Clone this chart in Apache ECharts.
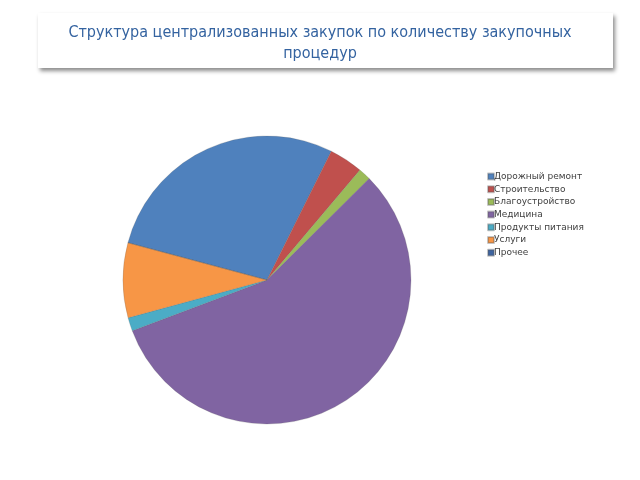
<!DOCTYPE html>
<html><head><meta charset="utf-8">
<script src="https://cdn.jsdelivr.net/npm/echarts@6/dist/echarts.min.js"></script>
<style>html,body{margin:0;padding:0;background:#fff}#c{width:640px;height:480px}</style>
</head><body><div id="c"></div>
<script>
var titleText = 'Структура централизованных закупок по количеству закупочных\nпроцедур';
var categories = ['Дорожный ремонт','Строительство','Благоустройство','Медицина','Продукты питания','Услуги','Прочее'];
var values = [28.2, 3.8, 1.4, 56.7, 1.5, 8.4, 0];
var colors = ['#4F81BD','#C0504D','#9BBB59','#8064A2','#4BACC6','#F79646','#3E64A0'];

var chart = echarts.init(document.getElementById('c'), null, {renderer:'canvas'});
chart.setOption({
  animation:false,
  color: colors,
  graphic:[{
    type:'rect', left:38, top:13, shape:{width:575, height:55},
    style:{fill:'#fff', shadowBlur:4, shadowOffsetX:2, shadowOffsetY:3, shadowColor:'rgba(0,0,0,0.45)'}, z:0
  },{
    type:'text', left:'center', top:22, z:1,
    style:{text:titleText, fill:'#3463A0', font:'16px "Liberation Sans Narrow","DejaVu Sans Condensed",sans-serif', textAlign:'center', lineHeight:21}
  }],
  legend:{
    orient:'vertical', left:482, top:166,
    itemWidth:6, itemHeight:6, itemGap:1.7,
    icon:'rect',
    textStyle:{fontSize:9, color:'#404040', lineHeight:11, fontFamily:'"DejaVu Sans",sans-serif', padding:[0,0,0,-5]},
    data: categories
  },
  series:[{
    type:'pie', center:[267,280], radius:144, startAngle:165, clockwise:true,
    label:{show:false}, labelLine:{show:false},
    itemStyle:{borderColor:'rgba(90,90,90,0.35)', borderWidth:0.6},
    emphasis:{disabled:true},
    data: categories.map(function(n,i){return {name:n, value:values[i]};})
  }]
});
</script></body></html>
